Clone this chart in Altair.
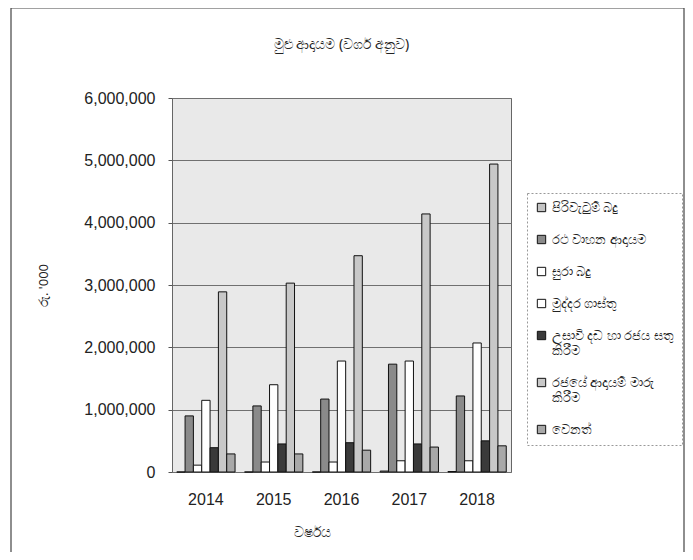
import altair as alt
import pandas as pd

years = ["2014", "2015", "2016", "2017", "2018"]
series = [
    "පිරිවැටුම් බදු",
    "රථ වාහන ආදායම",
    "සුරා බදු",
    "මුද්දර ගාස්තු",
    "උසාවි දඩ හා රජය සතු කිරීම",
    "රජයේ ආදායම් මාරු කිරීම",
    "වෙනත්",
]
turnover = [0, 0, 0, 15000, 8000]
vehicle = [900000, 1060000, 1170000, 1730000, 1220000]
excise = [110000, 160000, 160000, 180000, 180000]
stamp = [1150000, 1400000, 1780000, 1780000, 2070000]
court = [390000, 450000, 470000, 450000, 500000]
transfers = [2890000, 3030000, 3470000, 4140000, 4940000]
other = [290000, 290000, 350000, 400000, 420000]

values = [turnover, vehicle, excise, stamp, court, transfers, other]
colors = ["#c4c4c4", "#8a8a8a", "#ffffff", "#ffffff", "#3a3a3a", "#c8c8c8", "#a8a8a8"]

rows = []
for s, vals in zip(series, values):
    for y, v in zip(years, vals):
        rows.append({"year": y, "series": s, "value": v})
df = pd.DataFrame(rows)

FONT = "Noto Sans"

label_expr = (
    "datum.label == '" + series[4] + "' ? ['උසාවි දඩ හා රජය සතු', 'කිරීම'] : "
    "datum.label == '" + series[5] + "' ? ['රජයේ ආදායම් මාරු', 'කිරීම'] : datum.label"
)

bars = alt.Chart(df).mark_bar(stroke="#111111", strokeWidth=1).encode(
    x=alt.X(
        "year:N",
        sort=years,
        scale=alt.Scale(paddingInner=0.14, paddingOuter=0.07),
        axis=alt.Axis(
            title="වර්ෂය",
            labelAngle=0,
            ticks=False,
            domain=False,
            labelPadding=19,
            labelFont="Liberation Sans",
            labelFontSize=16,
            labelColor="#222222",
            titleFont=FONT,
            titleFontSize=14,
            titleFontWeight="normal",
            titleColor="#222222",
            titleX=140,
            titleY=53,
        ),
    ),
    xOffset=alt.XOffset("series:N", sort=series),
    y=alt.Y(
        "value:Q",
        scale=alt.Scale(domain=[0, 6000000]),
        axis=alt.Axis(
            title="රු. '000",
            values=[0, 1000000, 2000000, 3000000, 4000000, 5000000, 6000000],
            format=",.0f",
            grid=True,
            gridColor="#707070",
            gridWidth=1,
            domain=False,
            tickSize=4,
            tickColor="#555555",
            labelPadding=13,
            labelFont="Liberation Sans",
            labelFontSize=16,
            labelColor="#222222",
            titleFont=FONT,
            titleFontSize=13,
            titleFontWeight="normal",
            titleColor="#222222",
            titleX=-122,
            titleY=187,
        ),
    ),
    color=alt.Color(
        "series:N",
        sort=series,
        scale=alt.Scale(domain=series, range=colors),
        legend=alt.Legend(
            title=None,
            orient="none",
            legendX=355,
            legendY=95,
            symbolType="square",
            symbolSize=70,
            symbolStrokeColor="#111111",
            symbolStrokeWidth=1,
            labelFont=FONT,
            labelFontSize=13,
            labelColor="#222222",
            labelLimit=200,
            labelExpr=label_expr,
            rowPadding=18,
            padding=8,
            strokeColor="#999999",
            fillColor="#ffffff",
        ),
    ),
)

frame = alt.Chart(pd.DataFrame({"a": [0]})).mark_rect(
    fill=None, stroke="#444444", strokeWidth=1.2
).encode(
    x=alt.value(-161), x2=alt.value(512), y=alt.value(-90), y2=alt.value(490)
)

chart = alt.layer(frame, bars).properties(
    width=339,
    height=374,
    padding={"left": 164, "top": 90, "right": 174, "bottom": 80},
    autosize=alt.AutoSizeParams(type="none"),
    title=alt.TitleParams(
        "මුළු ආදායම (වර්ග අනුව)",
        font=FONT,
        fontSize=14,
        fontWeight="normal",
        color="#222222",
        anchor="middle",
        offset=0,
        dy=45,
    ),
).configure_view(
    stroke="#666666", fill="#e9e9e9"
).configure_legend(
    strokeDash=[2, 2]
)

chart.save("out.html", embed_options={"renderer": "svg", "actions": False})
